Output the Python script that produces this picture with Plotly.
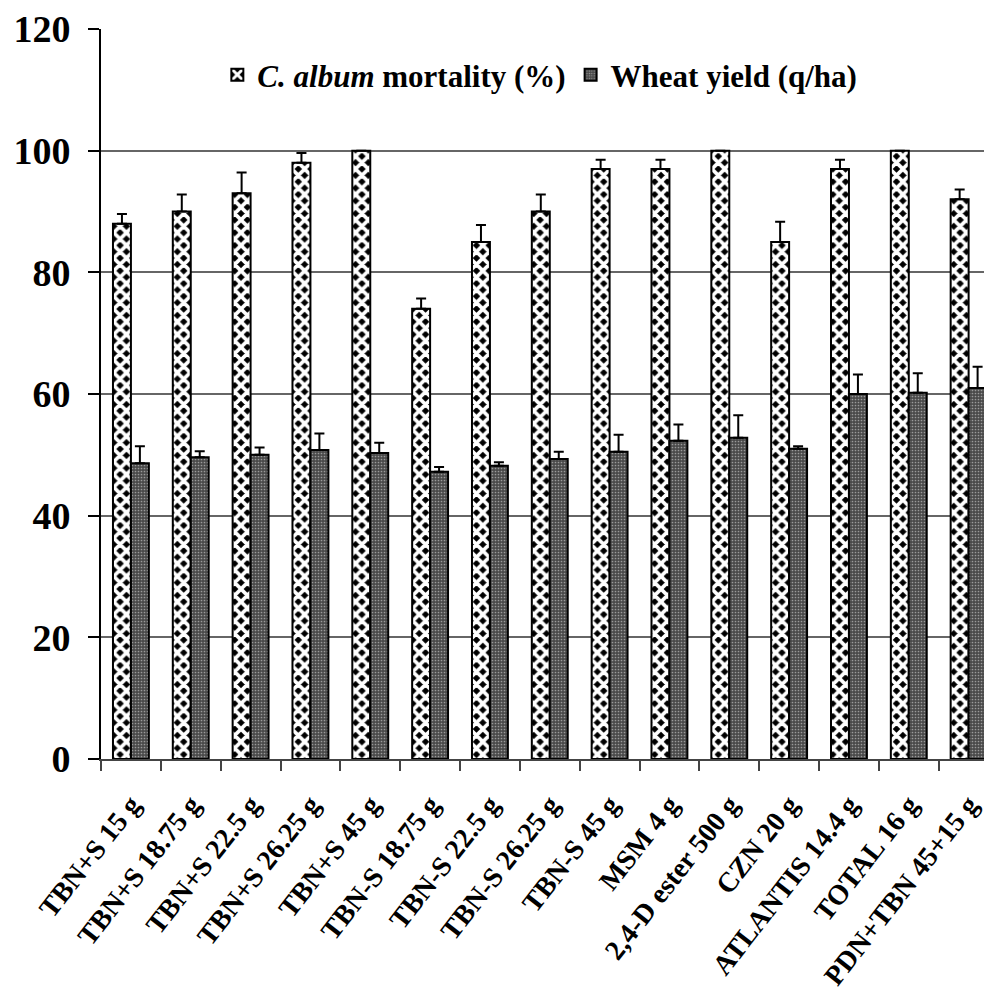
import plotly.graph_objects as go

categories = ["TBN+S 15 g", "TBN+S 18.75 g", "TBN+S 22.5 g", "TBN+S 26.25 g", "TBN+S 45 g",
              "TBN-S 18.75 g", "TBN-S 22.5 g", "TBN-S 26.25 g", "TBN-S 45 g", "MSM 4 g",
              "2,4-D ester 500 g", "CZN 20 g", "ATLANTIS 14.4 g", "TOTAL 16 g", "PDN+TBN 45+15 g"]
mortality = [88, 90, 93, 98, 100, 74, 85, 90, 97, 97, 100, 85, 97, 100, 92]
mortality_err = [1.6, 2.8, 3.4, 1.6, 0, 1.7, 2.8, 2.8, 1.5, 1.5, 0, 3.3, 1.5, 0, 1.6]
yield_q = [48.6, 49.6, 50.0, 50.8, 50.3, 47.2, 48.2, 49.3, 50.5, 52.3, 52.8, 51.0, 60.0, 60.2, 61.0]
yield_err = [2.8, 1.0, 1.2, 2.7, 1.7, 0.8, 0.6, 1.2, 2.8, 2.7, 3.7, 0.4, 3.2, 3.2, 3.5]

FONT = "Liberation Serif, Times New Roman, serif"
zeros = [0] * len(categories)

fig = go.Figure()
fig.add_trace(go.Bar(
    x=categories, y=mortality, name="<b><i>C. album</i> mortality (%)</b>",
    marker=dict(color="black", line=dict(color="black", width=2),
                pattern=dict(shape="x", fgcolor="white", bgcolor="black",
                             size=9, solidity=0.65, fillmode="replace")),
    error_y=dict(type="data", array=mortality_err, arrayminus=zeros, symmetric=False,
                 color="black", thickness=2, width=5),
))
fig.add_trace(go.Bar(
    x=categories, y=yield_q, name="<b>Wheat yield (q/ha)</b>",
    marker=dict(color="#4a4a4a", line=dict(color="black", width=2),
                pattern=dict(shape=".", fgcolor="#9a9a9a", bgcolor="#4a4a4a",
                             size=3, solidity=0.25, fillmode="replace")),
    error_y=dict(type="data", array=yield_err, arrayminus=zeros, symmetric=False,
                 color="black", thickness=2, width=5),
))

fig.update_layout(
    width=984, height=1001,
    margin=dict(l=101, r=0, t=29, b=242, autoexpand=False),
    paper_bgcolor="white", plot_bgcolor="white",
    barmode="group", bargap=0.4, bargroupgap=0,
    font=dict(family=FONT, color="black"),
    legend=dict(orientation="h", x=0.497, y=0.937, xanchor="center", yanchor="middle",
                bgcolor="white", font=dict(size=31, family=FONT, color="black"),
                itemwidth=30, traceorder="normal"),
    xaxis=dict(type="category", range=[-0.5, 14.257], showline=True, linecolor="#444",
               linewidth=2, ticks="outside", tickson="boundaries", ticklen=10,
               tickcolor="#444", tickwidth=2, tickangle=-52, ticklabelstandoff=16,
               tickfont=dict(size=28, family=FONT, weight="bold", color="black"),
               showgrid=False, automargin=False),
    yaxis=dict(range=[0, 120], dtick=20, showline=True, linecolor="black", linewidth=2,
               ticks="outside", ticklen=11, tickcolor="black", tickwidth=2,
               ticklabelstandoff=10, automargin=False,
               showgrid=True, gridcolor="#666", gridwidth=1.5,
               tickfont=dict(size=38, family=FONT, weight="bold", color="black"),
               zeroline=False),
)

fig.write_html("out.html")
